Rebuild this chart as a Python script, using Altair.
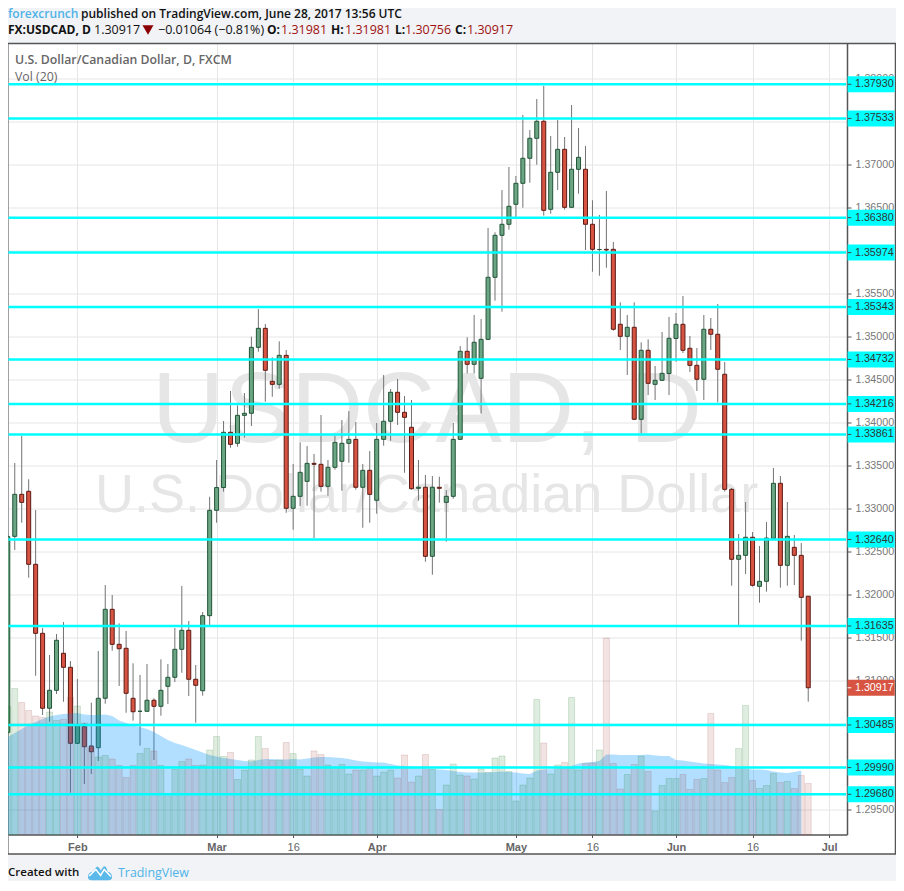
import altair as alt
import pandas as pd

day_index = list(range(-10, 106))
opens = [1.30400,1.32677,1.33165,1.33200,1.32352,1.31550,1.30679,1.30888,1.31318,1.31155,
1.30272,1.30465,1.30241,1.30221,1.30795,1.31829,1.31422,1.31376,1.30795,1.30644,
1.30644,1.30772,1.30702,1.30934,1.31039,1.31364,1.31585,1.31016,1.30883,1.31755,
1.32979,1.33244,1.33886,1.33758,1.34083,1.34107,1.34873,1.35094,1.34478,1.34443,
1.34780,1.33003,1.33142,1.33316,1.33525,1.33514,1.33258,1.33479,1.33549,1.33758,
1.33804,1.33247,1.33444,1.33096,1.33804,1.34014,1.34351,1.34118,1.33944,1.33235,
1.33247,1.32445,1.33247,1.33072,1.33142,1.33804,1.34827,1.34676,1.34513,1.34966,
1.35687,1.36175,1.36303,1.36535,1.36779,1.37070,1.37302,1.37500,1.36477,1.36907,
1.37174,1.36500,1.36942,1.36942,1.36303,1.36010,1.36012,1.36012,1.35141,1.35001,
1.35106,1.34037,1.34839,1.34443,1.34490,1.34569,1.34976,1.35141,1.34862,1.34664,
1.34502,1.35083,1.35025,1.34560,1.33223,1.32410,1.32456,1.32666,1.32096,1.32154,
1.32654,1.33293,1.32340,1.32549,1.32456,1.31981]
highs = [1.32704,1.33529,1.33843,1.33340,1.32983,1.31612,1.31298,1.31542,1.31681,1.31228,
1.31019,1.30508,1.30744,1.31344,1.32111,1.31995,1.31666,1.31577,1.31202,1.31066,
1.31193,1.30795,1.31248,1.31193,1.31612,1.32100,1.31693,1.31182,1.31798,1.33137,
1.33564,1.34017,1.34366,1.34199,1.34342,1.34997,1.35318,1.35144,1.34757,1.34943,
1.34842,1.33517,1.33769,1.33726,1.33634,1.34087,1.33564,1.33843,1.34029,1.34133,
1.34005,1.33517,1.33668,1.33994,1.34552,1.34389,1.34505,1.34308,1.34261,1.33564,
1.33390,1.33378,1.33370,1.33215,1.33994,1.34889,1.34990,1.35249,1.35202,1.36260,
1.36210,1.36701,1.36969,1.36864,1.37573,1.37398,1.37759,1.37910,1.37329,1.37515,
1.37317,1.37689,1.37422,1.37213,1.36582,1.36411,1.36690,1.36097,1.35396,1.35249,
1.35396,1.34932,1.34966,1.34656,1.35051,1.35226,1.35272,1.35470,1.35005,1.34865,
1.35249,1.35214,1.35377,1.34703,1.33238,1.32704,1.33076,1.32727,1.32565,1.32843,
1.33471,1.33378,1.33076,1.32692,1.32599,1.31981]
lows = [1.30368,1.32518,1.32835,1.32196,1.31057,1.30601,1.30523,1.30845,1.30755,1.29698,
1.30264,1.29799,1.29915,1.30066,1.30732,1.31348,1.30938,1.30627,1.30535,1.30244,
1.30644,1.30078,1.30593,1.30729,1.30984,1.31092,1.30822,1.30511,1.30825,1.31647,
1.32835,1.33196,1.33707,1.33718,1.33823,1.33959,1.34822,1.34241,1.34299,1.34392,
1.32951,1.32754,1.33029,1.33033,1.32657,1.33196,1.33149,1.33451,1.33207,1.33532,
1.33219,1.32777,1.32835,1.32940,1.33730,1.33788,1.33971,1.33416,1.33219,1.33091,
1.32382,1.32231,1.33068,1.32615,1.33114,1.33796,1.34571,1.34571,1.34102,1.34958,
1.35415,1.35287,1.36240,1.36388,1.36496,1.36786,1.36995,1.36403,1.36426,1.36701,
1.36472,1.36500,1.36658,1.36004,1.35752,1.35705,1.35798,1.35066,1.34842,1.34552,
1.34029,1.33874,1.34319,1.34261,1.34485,1.34319,1.34706,1.34807,1.34586,1.34366,
1.34261,1.34842,1.34234,1.33196,1.32103,1.31647,1.32239,1.32092,1.31906,1.32034,
1.32646,1.32080,1.32103,1.32111,1.31464,1.30756]
closes = [1.32673,1.33165,1.33072,1.32352,1.31550,1.30679,1.30888,1.31469,1.31155,1.30272,
1.30485,1.30232,1.30174,1.30795,1.31829,1.31422,1.31371,1.30853,1.30639,1.30644,
1.30772,1.30702,1.30888,1.31039,1.31364,1.31585,1.31016,1.30946,1.31755,1.32979,
1.33244,1.33886,1.33746,1.34083,1.34107,1.34873,1.35094,1.34606,1.34443,1.34780,
1.33003,1.33142,1.33421,1.33525,1.33514,1.33258,1.33479,1.33769,1.33758,1.33804,
1.33247,1.33444,1.33165,1.33804,1.34014,1.34351,1.34118,1.34060,1.33230,1.33247,
1.32445,1.33247,1.33235,1.33142,1.33804,1.34827,1.34676,1.34932,1.34966,1.35687,
1.36175,1.36303,1.36512,1.36779,1.37070,1.37302,1.37500,1.36465,1.36907,1.37174,
1.36500,1.36942,1.37081,1.36303,1.36012,1.36010,1.36004,1.35083,1.35001,1.35106,
1.34037,1.34839,1.34455,1.34490,1.34571,1.34978,1.35141,1.34839,1.34664,1.34502,
1.35083,1.35025,1.34618,1.33223,1.32410,1.32456,1.32666,1.32108,1.32154,1.32657,
1.33293,1.32340,1.32677,1.32456,1.31968,1.30917]
volumes = [128,146,132,124,118.5,117,122.5,114,115,137,
128.5,111.5,86.5,77.5,79,75.5,69,57,69,81,86,83.5,69,41,65,73,75.5,69,69.5,84.5,
98,78,82,55,64.5,74.5,98,86,74,74.5,92,81,65.5,58.5,83.5,80,69.5,67,70,60.5,
64.5,64.5,66,58.5,62.5,64.5,56.5,79.5,52.5,58.5,80,65.5,25,49.5,70.5,59.5,58.5,55.5,65.5,62,
76.5,78.5,63,33.5,49.5,56.5,135,91.5,60.5,69.5,72,137,64.5,71,71.5,84.5,196.5,71,45.5,60,
70,78.5,63,23.5,49,56,56,60,45,55,56,121,64.5,52,57,86,129,54,46,49,61,52,53,46,59,51]
volume_ma = [97.5,101.5,105.5,109.5,112.5,115.5,118,119.5,120.5,121,
121.5,120,119.5,119.5,120,118.5,114,111.5,109,107.5,105.5,102.5,98.5,94.5,91.5,89.5,87,84.5,82,79.5,
78,76.5,75.5,74.5,73.5,73,74.5,75.5,75.5,75,75,75.5,75,76,77,77.5,77.5,77,76.5,75.5,
74,73,72.5,72,72,70.5,69,68.5,68,67,66,65.5,65,64.5,63.5,62.5,62,62,62,62,
62.5,63,62.5,62,61,60.5,64,65,65.5,66,67,68.5,71,72,72.5,73.5,80,80,79.5,79.5,
79.5,79.5,80,79,78.5,78.5,74.5,74,73,72,71,70.5,70,69.5,68.5,67.5,66,65,65,64.5,
63,62,61.5,62.5,64]
levels = [1.37930,1.37533,1.36380,1.35974,1.35343,1.34732,1.34216,1.33861,1.32640,1.31635,1.30485,1.29990,1.29680]
price_ticks = [1.295,1.30,1.305,1.31,1.315,1.32,1.325,1.33,1.335,1.34,1.345,1.35,1.355,1.36,1.365,1.37,1.375,1.38]
date_ticks = [0,20,31,43,63,74,86,97,108]
date_labels = ["Feb","Mar","16","Apr","May","16","Jun","16","Jul"]

W, H = 839, 791
PRICE_DOM = [1.292123, 1.384037]
VOL_DOM = [0, 791]
X_DOM = [-9.97, 110.57]
SANS = "Open Sans"
ARIAL = "Liberation Sans"
BG = "#f1f3f6"
FRAME = "#555555"
UP, DOWN = "#6ba583", "#d75442"
UP_B, DOWN_B = "#225437", "#5b1a13"
RIGHT = 887.5

candles = pd.DataFrame({"i": day_index, "o": opens, "h": highs, "l": lows, "c": closes})
vol = pd.DataFrame({"i": day_index, "v": volumes, "o": opens, "c": closes})
ma = pd.DataFrame({"i": day_index[:len(volume_ma)], "m": volume_ma})
lv = pd.DataFrame({"p": levels})
last = pd.DataFrame({"p": closes[-1:]})
ONE = alt.Data(values=[{"a": 1}])


def yp(field, axis=None):
    return alt.Y(field, type="quantitative", scale=alt.Scale(domain=PRICE_DOM, nice=False, zero=False), axis=axis)


def yv(field):
    return alt.Y(field, type="quantitative", scale=alt.Scale(domain=VOL_DOM, nice=False, zero=False), axis=None, stack=None)


def txt(s, x, y, size=12, color="#000000", weight="normal", font=SANS, align="left"):
    return alt.Chart(ONE).mark_text(text=s, fontSize=size, color=color, fontWeight=weight, font=font,
                                    align=align, baseline="middle").encode(x=alt.value(x), y=alt.value(y))


def box(x, x2, y, y2, **kw):
    return alt.Chart(ONE).mark_rect(**kw).encode(x=alt.value(x), x2=alt.value(x2), y=alt.value(y), y2=alt.value(y2))


# axes
plain_ticks = [t for t, l in zip(date_ticks, date_labels) if l == "16"]
label_expr = "{" + ",".join(f"'{t}':'{l}'" for t, l in zip(date_ticks, date_labels)) + "}[datum.value]"
weight_test = " || ".join(f"datum.value == {t}" for t in plain_ticks)
x_axis = alt.Axis(values=date_ticks, labelExpr=label_expr, title=None, grid=True, gridColor="#e6e6e6", gridWidth=1,
                  domainColor=FRAME, domainWidth=1.5, tickColor=FRAME, tickSize=3, labelColor="#666666",
                  labelFont=ARIAL, labelFontSize=11, labelPadding=4, labelAngle=0,
                  labelFontWeight={"condition": {"test": weight_test, "value": "normal"}, "value": "bold"})
y_axis = alt.Axis(values=price_ticks, format=".5f", orient="right", title=None, grid=True, gridColor="#e6e6e6",
                  gridWidth=1, domainColor=FRAME, domainWidth=1.5, tickColor=FRAME, tickSize=4, labelColor="#777777",
                  labelFont=ARIAL, labelFontSize=10.7, labelPadding=4)
x_main = alt.X("i:Q", scale=alt.Scale(domain=X_DOM, nice=False, zero=False, padding=0), axis=x_axis)

up_test = "datum.c >= datum.o"
wm1 = txt("USDCAD, D", 419, 368.5, size=100, color="#e6e6e6", font=ARIAL, align="center")
wm2 = txt("U.S. Dollar/Canadian Dollar", 418.7, 452.3, size=54, color="#e6e6e6", font=ARIAL, align="center")

top_strip = box(0, 888, -36, 0, fill=BG)
bottom_strip = box(0, 888, 810.5, 838, fill=BG)
right_strip = box(RIGHT, 888, 0, 811, fill=BG)
frame = box(-0.2, RIGHT, 0, 810.5, fill="#ffffff", fillOpacity=0, stroke=FRAME, strokeWidth=1.5)

wicks = alt.Chart(candles).mark_rule(color="#737375", strokeWidth=1).encode(x=x_main, y=yp("l", y_axis), y2="h:Q")
bodies = alt.Chart(candles).mark_bar(size=4, strokeWidth=1, orient="vertical").encode(
    x=x_main, y=yp("o"), y2="c:Q",
    fill=alt.condition(up_test, alt.value(UP), alt.value(DOWN)),
    stroke=alt.condition(up_test, alt.value(UP_B), alt.value(DOWN_B)),
)
area = alt.Chart(ma).mark_area(color="#0094ff", opacity=0.3).encode(x=x_main, y=yv("m"))
vbars = alt.Chart(vol).mark_bar(size=6, strokeWidth=1, fillOpacity=0.13, strokeOpacity=0.15, orient="vertical").encode(
    x=x_main, y=yv("v"),
    fill=alt.condition(up_test, alt.value("#0a6e10"), alt.value("#942f2a")),
    stroke=alt.condition(up_test, alt.value("#0a6e10"), alt.value("#942f2a")),
)

cy_lines = alt.Chart(lv).mark_rule(color="#00ffff", strokeWidth=2.5).encode(
    x=alt.value(0.5), x2=alt.value(838), y=yp("p"))
cy_boxes = alt.Chart(lv).mark_rule(color="#00ffff", strokeWidth=16).encode(
    x=alt.value(839.6), x2=alt.value(RIGHT - 0.8), y=yp("p"))
cy_ticks = alt.Chart(lv).mark_rule(color="#444444", strokeWidth=1).encode(
    x=alt.value(839.6), x2=alt.value(843.3), y=yp("p"))
cy_text = alt.Chart(lv).mark_text(align="left", baseline="middle", font=ARIAL, fontSize=10.7, color="#333333").encode(
    x=alt.value(847), y=yp("p"), text=alt.Text("p:Q", format=".5f"))
last_box = alt.Chart(last).mark_rule(color=DOWN, strokeWidth=16).encode(
    x=alt.value(839.6), x2=alt.value(RIGHT - 0.8), y=yp("p"))
last_tick = alt.Chart(last).mark_rule(color="#ffffff", strokeWidth=1).encode(
    x=alt.value(839.6), x2=alt.value(843.3), y=yp("p"))
last_text = alt.Chart(last).mark_text(align="left", baseline="middle", font=ARIAL, fontSize=10.7, color="#ffffff").encode(
    x=alt.value(847), y=yp("p"), text=alt.Text("p:Q", format=".5f"))

RED = "#a01010"
B = "#111111"
header = [
    txt("forexcrunch", 0, -29.5, size=12, color="#4fb3e8", weight=600),
    txt("published on TradingView.com, June 28, 2017 13:56 UTC", 73, -29.5, size=12, color=B, weight=600),
    txt("FX:USDCAD, D", 0, -13.5, size=12, color=B, weight=700),
    txt("1.30917", 86, -13.5, size=12.5, color=B),
    alt.Chart(ONE).mark_point(shape="triangle-down", filled=True, size=120, color="#8b0000", opacity=1).encode(
        x=alt.value(140), y=alt.value(-13.5)),
    txt("\u22120.01064 (\u22120.81%)", 150, -13.5, size=12.5, color=B),
    txt("O:", 259, -13.5, size=12, color=B, weight=700),
    txt("1.31981", 273, -13.5, size=12.5, color=RED),
    txt("H:", 323, -13.5, size=12, color=B, weight=700),
    txt("1.31981", 337, -13.5, size=12.5, color=RED),
    txt("L:", 387, -13.5, size=12, color=B, weight=700),
    txt("1.30756", 397, -13.5, size=12.5, color=RED),
    txt("C:", 447, -13.5, size=12, color=B, weight=700),
    txt("1.30917", 459, -13.5, size=12.5, color=RED),
    txt("U.S. Dollar/Canadian Dollar, D, FXCM", 7, 16.5, size=12.3, color="#666666", weight=600),
    txt("Vol (20)", 7, 33.5, size=12.3, color="#666666"),
    txt("Created with", 0, 829.5, size=11.5, color=B, weight=600),
    txt("TradingView", 110, 829.5, size=12.4, color="#4fb3e8"),
]
CLOUD = "M-1,.35 Q-1,-.05 -.62,-.1 L-.3,-.5 Q-.1,-.6 .05,-.2 L.3,-.55 Q.55,-.6 .62,-.1 Q1,-.05 1,.35 Q1,.6 .7,.6 L-.7,.6 Q-1,.6 -1,.35 Z"
ZIG = "M-.9,.25 L-.35,-.3 L.05,.2 L.35,-.3 L.9,.3"
logo = alt.Chart(ONE).mark_point(shape=CLOUD, filled=True, size=576, color="#5ab9e8", opacity=1).encode(
    x=alt.value(92), y=alt.value(829.5))
logo2 = alt.Chart(ONE).mark_point(shape=ZIG, filled=False, size=576, color="#ffffff", strokeWidth=1.5, opacity=1).encode(
    x=alt.value(92), y=alt.value(829.5))

chart = alt.layer(
    wm1, wm2, top_strip, bottom_strip, right_strip, frame,
    wicks, bodies, area, vbars,
    cy_lines, cy_boxes, cy_ticks, cy_text, last_box, last_tick, last_text,
    *header, logo, logo2,
).resolve_scale(y="independent").properties(
    width=W, height=H, background="#ffffff",
    padding={"left": 0, "top": 35.5, "right": 49, "bottom": 46.5},
    autosize=alt.AutoSizeParams(type="none"),
).configure_view(stroke=None, fill="#ffffff")

chart.save("out.html", embed_options={"renderer": "svg", "actions": False})
